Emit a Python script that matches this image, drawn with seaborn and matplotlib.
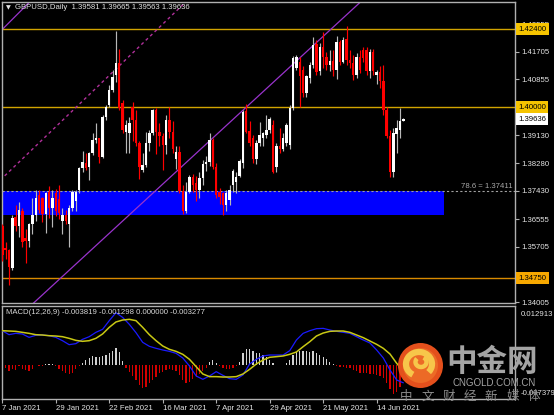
import numpy as np
import pandas as pd
import matplotlib
matplotlib.use("Agg")
import matplotlib.pyplot as plt
import seaborn as sns
from matplotlib.patches import Rectangle, Circle, Arc

# ---------------- data ----------------
dates = pd.bdate_range("2021-01-07", "2021-06-24")

opens = [1.3634,1.3568,1.3561,1.3505,1.3663,1.3635,1.3682,1.3598,1.3590,1.3640,
1.3668,1.3730,1.3720,1.3673,1.3740,1.3690,1.3735,1.3718,1.3650,1.3668,
1.3640,1.3690,1.3712,1.3745,1.3812,1.3828,1.3817,1.3858,1.3899,1.3904,
1.3848,1.3971,1.4007,1.4053,1.4099,1.4135,1.4012,1.3925,1.3920,1.4000,
1.3960,1.3889,1.3807,1.3822,1.3889,1.3920,1.3991,1.3925,1.3911,1.3885,
1.3960,1.3925,1.3840,1.3862,1.3743,1.3680,1.3740,1.3784,1.3766,1.3745,
1.3781,1.3826,1.3832,1.3899,1.3817,1.3738,1.3735,1.3699,1.3715,1.3760,
1.3771,1.3790,1.3827,1.3988,1.3928,1.3905,1.3840,1.3890,1.3905,1.3915,
1.3930,1.3945,1.3815,1.3880,1.3870,1.3890,1.3885,1.3996,1.4120,1.4140,
1.4115,1.4043,1.4090,1.4130,1.4195,1.4110,1.4186,1.4155,1.4130,1.4143,
1.4115,1.4200,1.4140,1.4210,1.4145,1.4137,1.4100,1.4155,1.4175,1.4175,
1.4110,1.4170,1.4100,1.4108,1.4080,1.3990,1.3911,1.3802,1.3917,1.3930,
1.39581]

highs = [1.3641,1.3585,1.3563,1.3668,1.3700,1.3710,1.3690,1.3625,1.3645,1.3720,
1.3745,1.3745,1.3725,1.3740,1.3757,1.3745,1.3750,1.3760,1.3690,1.3685,
1.3700,1.3745,1.3745,1.3815,1.3865,1.3858,1.3862,1.3920,1.3950,1.3905,
1.3976,1.4007,1.4068,1.4114,1.4235,1.4180,1.4022,1.3960,1.3970,1.4015,
1.3990,1.3897,1.3858,1.3925,1.3930,1.3994,1.3998,1.3951,1.3920,1.3975,
1.4000,1.3958,1.3880,1.3880,1.3760,1.3770,1.3792,1.3795,1.3790,1.3800,
1.3838,1.3850,1.3920,1.3905,1.3830,1.3752,1.3740,1.3745,1.3760,1.3810,
1.3802,1.3840,1.3990,1.4009,1.3958,1.3915,1.3900,1.3955,1.3925,1.3976,
1.3970,1.3960,1.3890,1.3935,1.3920,1.3950,1.4008,1.4158,1.4160,1.4155,
1.4125,1.4100,1.4140,1.4217,1.4205,1.4196,1.4230,1.4170,1.4175,1.4175,
1.4219,1.4205,1.4215,1.4248,1.4175,1.4160,1.4165,1.4175,1.4185,1.4185,
1.4180,1.4180,1.4115,1.4125,1.4130,1.4000,1.3930,1.3935,1.3960,1.3998,
1.39665]

lows = [1.3528,1.3535,1.3454,1.3500,1.3620,1.3600,1.3570,1.3520,1.3570,1.3610,
1.3650,1.3675,1.3648,1.3612,1.3660,1.3633,1.3665,1.3655,1.3610,1.3640,
1.3570,1.3680,1.3680,1.3735,1.3800,1.3807,1.3777,1.3853,1.3889,1.3827,
1.3843,1.3961,1.4002,1.4048,1.4078,1.3990,1.3920,1.3860,1.3858,1.3895,
1.3880,1.3780,1.3802,1.3817,1.3864,1.3915,1.3857,1.3880,1.3808,1.3855,
1.3905,1.3860,1.3810,1.3735,1.3671,1.3675,1.3735,1.3740,1.3711,1.3720,
1.3760,1.3803,1.3820,1.3810,1.3720,1.3704,1.3669,1.3680,1.3700,1.3740,
1.3735,1.3785,1.3812,1.3920,1.3880,1.3830,1.3825,1.3880,1.3880,1.3905,
1.3920,1.3797,1.3800,1.3860,1.3865,1.3880,1.3870,1.3990,1.4115,1.4000,
1.4030,1.4030,1.4075,1.4120,1.4100,1.4100,1.4120,1.4115,1.4110,1.4095,
1.4088,1.4130,1.4135,1.4130,1.4120,1.4082,1.4090,1.4105,1.4140,1.4100,
1.4090,1.4100,1.4070,1.4060,1.3975,1.3905,1.3786,1.3786,1.3858,1.3905,
1.39563]

closes = [1.3545,1.3560,1.3510,1.3658,1.3635,1.3684,1.3587,1.3588,1.3640,1.3670,
1.3720,1.3684,1.3673,1.3735,1.3690,1.3720,1.3680,1.3675,1.3668,1.3650,
1.3690,1.3740,1.3738,1.3812,1.3833,1.3812,1.3858,1.3899,1.3904,1.3848,
1.3971,1.4002,1.4053,1.4094,1.4135,1.3998,1.3930,1.3945,1.3950,1.3960,
1.3889,1.3817,1.3822,1.3889,1.3920,1.3991,1.3925,1.3911,1.3885,1.3960,
1.3925,1.3870,1.3862,1.3743,1.3680,1.3740,1.3784,1.3760,1.3745,1.3781,
1.3826,1.3833,1.3899,1.3817,1.3730,1.3725,1.3699,1.3735,1.3745,1.3805,
1.3787,1.3834,1.3986,1.3925,1.3890,1.3840,1.3890,1.3915,1.3920,1.3930,
1.3965,1.3802,1.3880,1.3870,1.3905,1.3945,1.3996,1.4150,1.4155,1.4095,
1.4043,1.4095,1.4130,1.4191,1.4109,1.4186,1.4155,1.4130,1.4143,1.4115,
1.4200,1.4140,1.4205,1.4145,1.4137,1.4100,1.4155,1.4115,1.4150,1.4110,
1.4170,1.4110,1.4108,1.4080,1.3990,1.3911,1.3802,1.3920,1.3935,1.3958,
1.39636]

# MACD lines read every second bar
macd_bars = list(range(0, 121, 2))
macd_main = [0.00756,0.00669,0.00698,0.00684,0.00611,0.00655,0.00662,0.00647,0.00611,0.00538,
0.00451,0.00473,0.00567,0.00625,0.00720,0.00785,0.00975,0.01149,0.01047,0.00895,
0.00713,0.00502,0.00415,0.00371,0.00335,0.00305,0.00262,0.00160,-0.00015,-0.00233,
-0.00305,-0.00233,-0.00138,-0.00218,-0.00291,-0.00305,-0.00211,0.00029,0.00131,0.00204,
0.00225,0.00225,0.00225,0.00320,0.00553,0.00698,0.00756,0.00800,0.00807,0.00771,
0.00742,0.00720,0.00698,0.00625,0.00553,0.00487,0.00335,0.00160,-0.00102,-0.00320,
-0.00382]
macd_signal = [0.00756,0.00749,0.00742,0.00720,0.00698,0.00669,0.00662,0.00647,0.00640,0.00625,
0.00589,0.00545,0.00524,0.00538,0.00589,0.00684,0.00829,0.00946,0.00989,0.01004,
0.00975,0.00829,0.00669,0.00538,0.00422,0.00349,0.00305,0.00240,0.00131,-0.00029,
-0.00189,-0.00247,-0.00247,-0.00255,-0.00255,-0.00247,-0.00189,-0.00087,0.00029,0.00116,
0.00175,0.00189,0.00204,0.00240,0.00291,0.00407,0.00516,0.00640,0.00705,0.00742,
0.00749,0.00749,0.00720,0.00662,0.00604,0.00531,0.00458,0.00371,0.00247,0.00044,
-0.00130]
macd_hist = [-0.00051,-0.00065,-0.00116,-0.00087,-0.00102,-0.00022,-0.00073,-0.00102,-0.00116,-0.00073,
0.00015,-0.00007,-0.00007,0.00022,0.00022,0.00022,-0.00007,-0.00073,-0.00116,-0.00160,
-0.00189,-0.00160,-0.00073,-0.00015,0.00058,0.00116,0.00167,0.00204,0.00189,0.00175,
0.00204,0.00225,0.00276,0.00320,0.00371,0.00298,0.00102,-0.00065,-0.00145,-0.00233,
-0.00320,-0.00429,-0.00502,-0.00465,-0.00393,-0.00320,-0.00247,-0.00175,-0.00138,-0.00102,
-0.00087,-0.00102,-0.00131,-0.00211,-0.00320,-0.00378,-0.00356,-0.00305,-0.00247,-0.00189,
-0.00116,-0.00051,0.00080,0.00116,0.00058,-0.00007,-0.00065,-0.00087,-0.00087,-0.00058,
-0.00015,0.00080,0.00262,0.00349,0.00364,0.00320,0.00276,0.00262,0.00225,0.00189,
0.00116,0.00044,0.00015,0.00005,0.00015,0.00058,0.00116,0.00225,0.00298,0.00320,
0.00320,0.00313,0.00298,0.00313,0.00276,0.00225,0.00175,0.00131,0.00080,0.00029,
-0.00022,-0.00029,-0.00036,-0.00051,-0.00065,-0.00102,-0.00131,-0.00160,-0.00175,-0.00175,
-0.00189,-0.00189,-0.00204,-0.00233,-0.00284,-0.00393,-0.00524,-0.00633,-0.00582,-0.00480,
-0.003277]

price_ticks = [1.42555, 1.41705, 1.40855, 1.39130, 1.38280, 1.37430, 1.36555, 1.35705, 1.34005]
level_values = [1.42400, 1.40000, 1.34750]
level_line_colors = ['#d2a400', '#d2a400', '#d88a00']
level_box_colors = ['#f6c400', '#f6c400', '#f7a800']
current_price = 1.39636
zone_top, zone_bottom, zone_end_bar = 1.37425, 1.36687, 132.1
fib_level = 1.37411
fib_label = "78.6 = 1.37411"
trend_main_bars, trend_main_prices = [8.9, 107.6], [1.33940, 1.43272]
trend_dash_bars, trend_dash_prices = [-0.6, 55.0], [1.37761, 1.43243]
trend_top_bars, trend_top_prices = [-0.6, 8.1], [1.42327, 1.43224]
date_tick_bars = [0, 16, 32, 48, 64, 80, 96, 112]
header = "GBPUSD,Daily  1.39581 1.39665 1.39563 1.39636"
macd_header = "MACD(12,26,9) -0.003819 -0.001298 0.000000 -0.003277"
macd_tick_vals = [0.01135, -0.00596]
macd_tick_labels = ["0.012913", "-0.007379"]

# ---------------- style ----------------
sns.set_theme(style="dark")
plt.rcParams['font.family'] = ['Liberation Sans', 'DejaVu Sans']
plt.rcParams['axes.facecolor'] = 'black'
plt.rcParams['figure.facecolor'] = 'black'

W, H = 554, 415
fig = plt.figure(figsize=(W / 100, H / 100), dpi=100, facecolor='black')

def rect(l, t, r, b):
    return [l / W, 1 - b / H, (r - l) / W, (b - t) / H]

ax = fig.add_axes(rect(2, 2, 515, 303))
ax2 = fig.add_axes(rect(2, 305.5, 515, 399))
XMIN, XMAX = -0.09, 153.4
FS = 5.6
TXT = '#e4e4e4'
SPINE = '#b0b0b0'

for a in (ax, ax2):
    a.set_facecolor('black')
    a.grid(False)
    for s in a.spines.values():
        s.set_color(SPINE)
        s.set_linewidth(1.0)
        s.set_visible(True)
    a.set_xlim(XMIN, XMAX)

# ---------------- price panel ----------------
idx = np.arange(len(dates))
o, h, l, c = map(np.array, (opens, highs, lows, closes))
up = c >= o

ax.add_patch(Rectangle((XMIN, zone_bottom), zone_end_bar - XMIN, zone_top - zone_bottom,
                       facecolor='#0000ff', edgecolor='none', zorder=1))
ax.axhline(fib_level, color='#a0a0a0', lw=0.8, ls=(0, (2, 2)), zorder=2)
ax.text(152.6, 1.37470, fib_label, ha='right', va='bottom', fontsize=FS, color='#a8a8a8', zorder=6)

for val, lc in zip(level_values, level_line_colors):
    ax.axhline(val, color=lc, lw=1.0, zorder=2)

ax.plot(trend_main_bars, trend_main_prices, color='#9933cc', lw=0.9, zorder=2)
ax.plot(trend_top_bars, trend_top_prices, color='#9933cc', lw=0.9, zorder=2)
ax.plot(trend_dash_bars, trend_dash_prices, color='#b0309a', lw=1.0, ls=(0, (2.2, 2.2)), zorder=2)

wick_cols = np.where(up, '#b8b8b8', '#ff0000')
body_cols = np.where(up, '#ffffff', '#ff0000')
ax.vlines(idx, l, h, colors=wick_cols, lw=0.85, zorder=3)
ax.bar(idx, np.maximum(np.abs(c - o), 0.00005), bottom=np.minimum(o, c), width=0.72,
       color=body_cols, linewidth=0, zorder=4)

ax.set_ylim(1.33984, 1.43231)
ax.yaxis.tick_right()
ax.set_yticks(price_ticks)
ax.set_yticklabels([f"{v:.5f}" for v in price_ticks])
ax.tick_params(axis='y', right=True, left=False, length=3, width=0.8, color=SPINE,
               labelcolor=TXT, labelsize=FS, pad=1.5, direction='out')
ax.tick_params(axis='x', bottom=False, labelbottom=False)

ytr = ax.get_yaxis_transform()
for val, fc in zip(level_values, level_box_colors):
    ax.text(1.0065, val, f"{val:.5f}", transform=ytr, ha='left', va='center', fontsize=FS,
            color='black', clip_on=False, zorder=20,
            bbox=dict(boxstyle='square,pad=0.28', fc=fc, ec='none'))
ax.text(1.0065, current_price, f"{current_price:.5f}", transform=ytr, ha='left', va='center',
        fontsize=FS, color='black', clip_on=False, zorder=20,
        bbox=dict(boxstyle='square,pad=0.28', fc='#ffffff', ec='none'))

ax.text(0.008, 0.981, "\u25BC", transform=ax.transAxes, ha='left', va='center',
        fontsize=4.5, color=TXT, family=['DejaVu Sans'])
ax.text(0.025, 0.981, header, transform=ax.transAxes, ha='left', va='center',
        fontsize=FS, color=TXT)

# ---------------- MACD panel ----------------
hist = np.array(macd_hist)
ax2.bar(idx, hist, width=0.38, color=np.where(hist >= 0, '#d0d0d0', '#d40000'),
        linewidth=0, zorder=2)
sns.lineplot(x=macd_bars, y=macd_main, ax=ax2, color='#1a1aff', lw=0.9, zorder=3)
sns.lineplot(x=macd_bars, y=macd_signal, ax=ax2, color='#c8c814', lw=1.1, zorder=4)
ax2.set_ylim(-0.00735, 0.01306)
ax2.set_xlim(XMIN, XMAX)
ax2.set_xlabel('')
ax2.set_ylabel('')
ax2.yaxis.tick_right()
ax2.set_yticks(macd_tick_vals)
ax2.set_yticklabels(macd_tick_labels)
ax2.tick_params(axis='y', right=True, left=False, length=0, labelcolor=TXT,
                labelsize=FS, pad=4.0)
ax2.set_xticks(date_tick_bars)
ax2.set_xticklabels([f"{dates[i].day} {dates[i]:%b %Y}" for i in date_tick_bars])
ax2.tick_params(axis='x', bottom=True, length=3, width=0.8, color=SPINE,
                labelcolor=TXT, labelsize=FS, pad=1.5)
for lab in ax2.get_xticklabels():
    lab.set_ha('left')
ax2.text(0.008, 0.925, macd_header, transform=ax2.transAxes, ha='left', va='center',
         fontsize=FS, color='#d8d8d8')

# ---------------- watermark overlay ----------------
ov = fig.add_axes([0, 0, 1, 1], zorder=10)
ov.set_xlim(0, W)
ov.set_ylim(H, 0)
ov.axis('off')
ov.patch.set_alpha(0)
ov.add_patch(Circle((420.5, 365.5), 22.5, facecolor='#e4501c', edgecolor='none'))
ov.add_patch(Circle((420.5, 365.5), 17.5, facecolor='#ec6a26', edgecolor='none'))
ov.add_patch(Arc((419, 364), 26, 24, theta1=120, theta2=400, color='#f7c64a', lw=4.5))
ov.add_patch(Arc((421, 362), 11, 10, theta1=-60, theta2=220, color='#f7c64a', lw=3.2))
ov.text(446, 362, "中金网", fontsize=22, fontweight='bold', color='#a4a4a4',
        ha='left', va='center', family=['Noto Sans CJK SC', 'DejaVu Sans'])
ov.text(494, 383, "CNGOLD.COM.CN", fontsize=7, color='#a4a4a4', ha='center', va='center')
for k, ch in enumerate("中文财经新媒体"):
    ov.text(406 + 21.3 * k, 396, ch, fontsize=9, color='#8c8c8c', ha='center', va='center',
            family=['Noto Sans CJK SC', 'DejaVu Sans'])

fig.savefig("out.png", dpi=100, facecolor='black')
